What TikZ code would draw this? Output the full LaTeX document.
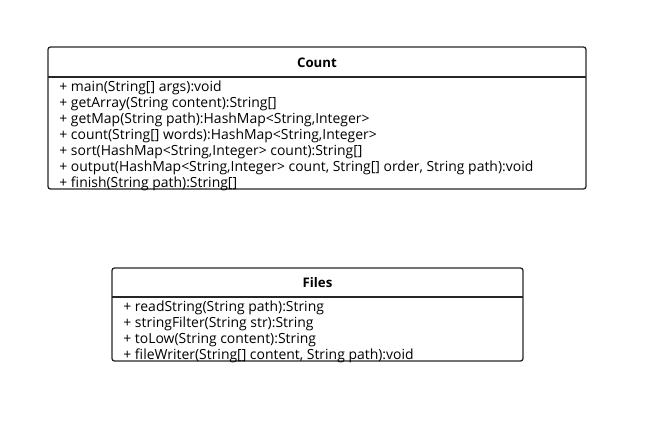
\documentclass[tikz,border=0pt]{standalone}
\usepackage{fontspec}
\setmainfont{Open Sans}
\usetikzlibrary{positioning}

\begin{document}
\begin{tikzpicture}[x=1pt,y=-1pt,thick,
  class box/.style={draw=black!85,line width=1.3pt,rounded corners=2.5pt},
  class name/.style={font=\fontsize{13.2}{14}\selectfont\bfseries},
  method list/.style={anchor=north west,align=left,inner sep=0pt,
    font=\fontsize{13.95}{16}\selectfont}]
  \useasboundingbox (0,0) rectangle (648,424);
  % class Count
  \draw[class box] (48,47) rectangle (586,189);
  \coordinate (countL) at (48,77);
  \coordinate (countR) at (586,77);
  \draw[line width=1.3pt,black!85] (countL) -- (countR);
  \node[class name] (count) at (317,63) {Count};
  \node[method list] (countops) at (59,80) {%
    + main(String[] args):void\\
    + getArray(String content):String[]\\
    + getMap(String path):HashMap<String,Integer>\\
    + count(String[] words):HashMap<String,Integer>\\
    + sort(HashMap<String,Integer> count):String[]\\
    + output(HashMap<String,Integer> count, String[] order, String path):void\\
    + finish(String path):String[]};
  % class Files
  \draw[class box] (112,268) rectangle (523,361);
  \coordinate (filesL) at (112,297);
  \coordinate (filesR) at (523,297);
  \draw[line width=1.3pt,black!85] (filesL) -- (filesR);
  \node[class name] (files) at (317.5,283) {Files};
  \node[method list] (filesops) at (123,300.5) {%
    + readString(String path):String\\
    + stringFilter(String str):String\\
    + toLow(String content):String\\
    + fileWriter(String[] content, String path):void};
\end{tikzpicture}
\end{document}
